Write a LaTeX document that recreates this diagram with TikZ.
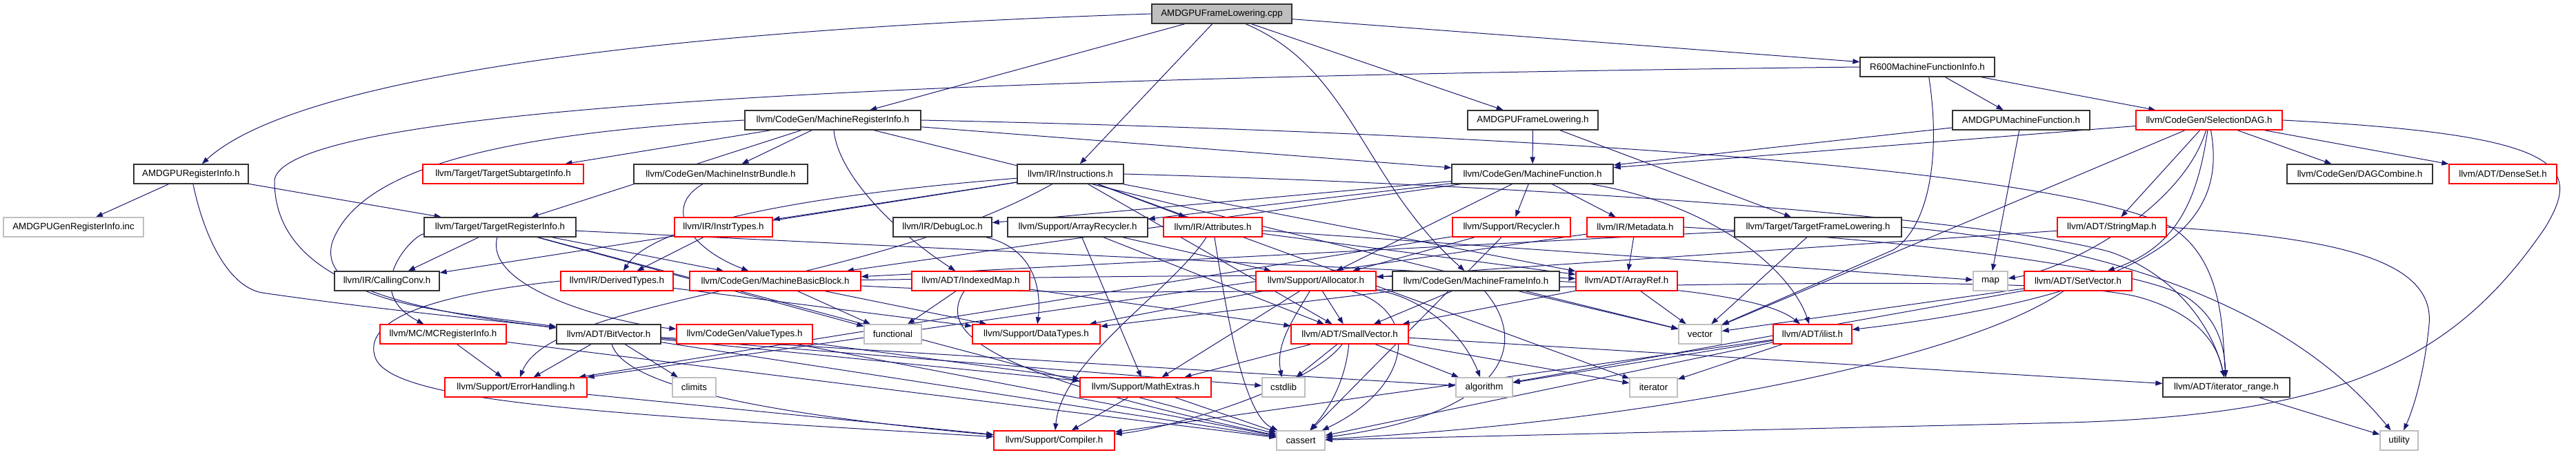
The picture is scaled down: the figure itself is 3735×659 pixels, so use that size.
\documentclass[tikz,border=0pt]{standalone}
\usepackage{fontspec}
\setmainfont{Liberation Sans}
\usetikzlibrary{arrows.meta,backgrounds}
\definecolor{edgeblue}{HTML}{191970}
\definecolor{trunc}{HTML}{FF0000}
\definecolor{sysgrey}{HTML}{BFBFBF}
\tikzset{
  hdr/.style={draw=black!80,line width=1pt,fill=white,minimum height=21pt,
    inner sep=0pt,font=\fontsize{10}{12}\selectfont},
  redhdr/.style={hdr,draw=trunc},
  syshdr/.style={hdr,draw=sysgrey},
  roothdr/.style={hdr,fill=sysgrey},
  boxw/.style={minimum width=#1*0.75pt},
  dep/.style={-{Triangle[length=7.5pt,width=5.5pt]},draw=edgeblue,line width=0.75pt}
}

\begin{document}
\begin{tikzpicture}[x=0.75pt,y=-0.75pt]
  \useasboundingbox (0,0) rectangle (3735,659);

  % top levels
  \node[roothdr,boxw=203] (cpp) at (1771.5,20) {AMDGPUFrameLowering.cpp};
  \node[hdr,boxw=195] (r600) at (2794.5,97) {R600MachineFunctionInfo.h};
  \node[hdr,boxw=255] (mri) at (1207.5,174) {llvm/CodeGen/MachineRegisterInfo.h};
  \node[hdr,boxw=189] (aflh) at (2222.5,174) {AMDGPUFrameLowering.h};
  \node[hdr,boxw=199] (amf) at (2930.5,174) {AMDGPUMachineFunction.h};
  \node[redhdr,boxw=212] (sdag) at (3203,174) {llvm/CodeGen/SelectionDAG.h};

  \node[hdr,boxw=166] (ari) at (277,252) {AMDGPURegisterInfo.h};
  \node[redhdr,boxw=233] (tsi) at (729.5,252) {llvm/Target/TargetSubtargetInfo.h};
  \node[hdr,boxw=252] (mib) at (1045,252) {llvm/CodeGen/MachineInstrBundle.h};
  \node[hdr,boxw=154] (instr) at (1552,252) {llvm/IR/Instructions.h};
  \node[hdr,boxw=234] (mf) at (2222,252) {llvm/CodeGen/MachineFunction.h};
  \node[hdr,boxw=211] (dagc) at (3421.5,252) {llvm/CodeGen/DAGCombine.h};
  \node[redhdr,boxw=156] (dset) at (3629,252) {llvm/ADT/DenseSet.h};

  \node[syshdr,boxw=203] (inc) at (106.5,329) {AMDGPUGenRegisterInfo.inc};
  \node[hdr,boxw=220] (tri) at (725,329) {llvm/Target/TargetRegisterInfo.h};
  \node[redhdr,boxw=142] (itypes) at (1049,329) {llvm/IR/InstrTypes.h};
  \node[hdr,boxw=143] (dloc) at (1366.5,329) {llvm/IR/DebugLoc.h};
  \node[hdr,boxw=203] (arec) at (1562.5,329) {llvm/Support/ArrayRecycler.h};
  \node[redhdr,boxw=143] (attr) at (1758.5,329) {llvm/IR/Attributes.h};
  \node[redhdr,boxw=171] (recy) at (2191.5,329) {llvm/Support/Recycler.h};
  \node[redhdr,boxw=140] (meta) at (2371,329) {llvm/IR/Metadata.h};
  \node[hdr,boxw=242] (tfl) at (2636,329) {llvm/Target/TargetFrameLowering.h};
  \node[redhdr,boxw=158] (smap) at (3062,329) {llvm/ADT/StringMap.h};

  \node[hdr,boxw=152] (cconv) at (561,407) {llvm/IR/CallingConv.h};
  \node[redhdr,boxw=163] (dtypes) at (894.5,407) {llvm/IR/DerivedTypes.h};
  \node[redhdr,boxw=248] (mbb) at (1124,407) {llvm/CodeGen/MachineBasicBlock.h};
  \node[redhdr,boxw=171] (imap) at (1407.5,407) {llvm/ADT/IndexedMap.h};
  \node[redhdr,boxw=174] (alloc) at (1908,407) {llvm/Support/Allocator.h};
  \node[hdr,boxw=242] (mfi) at (2140,407) {llvm/CodeGen/MachineFrameInfo.h};
  \node[redhdr,boxw=147] (aref) at (2358.5,407) {llvm/ADT/ArrayRef.h};
  \node[syshdr,boxw=50] (map) at (2886,407) {map};
  \node[redhdr,boxw=156] (svec) at (3013,407) {llvm/ADT/SetVector.h};

  \node[redhdr,boxw=183] (mcri) at (642.5,484) {llvm/MC/MCRegisterInfo.h};
  \node[hdr,boxw=151] (bitv) at (882.5,484) {llvm/ADT/BitVector.h};
  \node[redhdr,boxw=197] (vtypes) at (1079.5,484) {llvm/CodeGen/ValueTypes.h};
  \node[syshdr,boxw=83] (func) at (1294.5,484) {functional};
  \node[redhdr,boxw=185] (dtyp) at (1502.5,484) {llvm/Support/DataTypes.h};
  \node[redhdr,boxw=170] (smallv) at (1957,484) {llvm/ADT/SmallVector.h};
  \node[syshdr,boxw=62] (vector) at (2465,484) {vector};
  \node[redhdr,boxw=114] (ilist) at (2628,484) {llvm/ADT/ilist.h};

  \node[redhdr,boxw=206] (errh) at (748,561) {llvm/Support/ErrorHandling.h};
  \node[syshdr,boxw=63] (climits) at (1006.5,561) {climits};
  \node[redhdr,boxw=190] (mathx) at (1661,561) {llvm/Support/MathExtras.h};
  \node[syshdr,boxw=62] (cstdlib) at (1861,561) {cstdlib};
  \node[syshdr,boxw=82] (algo) at (2152,561) {algorithm};
  \node[syshdr,boxw=69] (iter) at (2397.5,561) {iterator};
  \node[hdr,boxw=184] (itrange) at (3228,561) {llvm/ADT/iterator\_range.h};

  \node[redhdr,boxw=175] (comp) at (1528.5,638) {llvm/Support/Compiler.h};
  \node[syshdr,boxw=70] (cassert) at (1886,638) {cassert};
  \node[syshdr,boxw=55] (utility) at (3478.5,638) {utility};

  % include edges, kept under the boxes
  \begin{pgfonlayer}{background}
  \draw[dep] (cpp.west) .. controls (900,45) and (420,120) .. (ari);
  \draw[dep] (cpp) -- (mri);
  \draw[dep] (cpp) -- (instr);
  \draw[dep] (cpp) -- (aflh);
  \draw[dep] (cpp) .. controls (1960,100) and (1975,260) .. (mfi);
  \draw[dep] (cpp) -- (r600);
  \draw[dep] (ari) -- (inc);
  \draw[dep] (ari) -- (tri);
  \draw[dep] (ari) .. controls (295,340) and (330,415) .. (380,424) .. controls (560,450) and (700,462) .. (bitv);
  \draw[dep] (r600) -- (amf);
  \draw[dep] (r600) -- (sdag);
  \draw[dep] (r600.west) .. controls (1400,112) and (420,150) .. (398,260) .. controls (396,420) and (620,452) .. (bitv);
  \draw[dep] (r600) .. controls (2815,230) and (2795,330) .. (2745,362) -- (vector);
  \draw[dep] (mri) -- (tsi);
  \draw[dep] (mri) -- (mib);
  \draw[dep] (mri) -- (tri);
  \draw[dep] (mri) -- (mf);
  \draw[dep] (mri) .. controls (1215,250) and (1290,330) .. (imap);
  \draw[dep] (mri.west) .. controls (700,195) and (520,250) .. (482,350) .. controls (455,440) and (660,452) .. (bitv);
  \draw[dep] (mri.east) .. controls (2300,195) and (3000,250) .. (3150,330) .. controls (3225,380) and (3222,480) .. (itrange);
  \draw[dep] (mri) -- (vector);
  \draw[dep] (aflh) -- (mf);
  \draw[dep] (aflh) -- (tfl);
  \draw[dep] (amf) -- (mf);
  \draw[dep] (amf) -- (map);
  \draw[dep] (sdag) -- (mf);
  \draw[dep] (sdag) -- (dagc);
  \draw[dep] (sdag) -- (dset);
  \draw[dep] (sdag) -- (smap);
  \draw[dep] (sdag) .. controls (3185,300) and (3150,360) .. (svec);
  \draw[dep] (sdag) .. controls (3225,300) and (3180,420) .. (ilist);
  \draw[dep] (sdag) .. controls (3165,300) and (3000,390) .. (map);
  \draw[dep] (sdag) -- (vector);
  \draw[dep] (sdag.east) .. controls (3720,195) and (3745,240) .. (3690,330) .. controls (3560,520) and (3400,600) .. (3000,612) -- (cassert);
  \draw[dep] (instr) -- (itypes);
  \draw[dep] (instr) -- (attr);
  \draw[dep] (instr) -- (cconv);
  \draw[dep] (instr) .. controls (1200,280) and (950,320) .. (dtypes);
  \draw[dep] (instr) -- (aref);
  \draw[dep] (instr) -- (smallv);
  \draw[dep] (instr) .. controls (1250,420) and (800,430) .. (errh);
  \draw[dep] (instr) -- (iter);
  \draw[dep] (instr.east) .. controls (2300,270) and (2900,320) .. (3060,365) .. controls (3160,400) and (3210,480) .. (itrange);
  \draw[dep] (mf) -- (dloc);
  \draw[dep] (mf) -- (arec);
  \draw[dep] (mf) -- (recy);
  \draw[dep] (mf) -- (meta);
  \draw[dep] (mf) -- (alloc);
  \draw[dep] (mf) -- (mbb);
  \draw[dep] (mf) .. controls (2500,300) and (2600,400) .. (ilist);
  \draw[dep] (mib) .. controls (960,300) and (1000,360) .. (mbb);
  \draw[dep] (tri) -- (cconv);
  \draw[dep] (tri) -- (mbb);
  \draw[dep] (tri) .. controls (700,420) and (900,470) .. (vtypes);
  \draw[dep] (tri) .. controls (600,340) and (520,420) .. (mcri);
  \draw[dep] (tri) -- (func);
  \draw[dep] (tri) -- (aref);
  \draw[dep] (tri) -- (cassert);
  \draw[dep] (itypes) -- (dtypes);
  \draw[dep] (dloc) .. controls (1500,360) and (1510,420) .. (dtyp);
  \draw[dep] (arec) -- (alloc);
  \draw[dep] (arec) -- (mathx);
  \draw[dep] (arec) -- (smallv);
  \draw[dep] (attr) -- (aref);
  \draw[dep] (attr) .. controls (1700,420) and (1540,520) .. (comp);
  \draw[dep] (attr) .. controls (1775,430) and (1800,600) .. (cassert);
  \draw[dep] (attr) -- (map);
  \draw[dep] (recy) -- (alloc);
  \draw[dep] (recy) -- (errh);
  \draw[dep] (recy) -- (cassert);
  \draw[dep] (meta) -- (aref);
  \draw[dep] (meta.east) .. controls (2800,350) and (3100,390) .. (3170,430) .. controls (3215,460) and (3225,500) .. (itrange);
  \draw[dep] (meta) -- (errh);
  \draw[dep] (tfl) -- (mbb);
  \draw[dep] (tfl) -- (vector);
  \draw[dep] (tfl.east) .. controls (3000,350) and (3300,420) .. (utility);
  \draw[dep] (smap) -- (alloc);
  \draw[dep] (smap.east) .. controls (3400,345) and (3530,380) .. (3522,470) .. controls (3515,540) and (3500,590) .. (utility);
  \draw[dep] (dtypes) -- (dtyp);
  \draw[dep] (dtypes.west) .. controls (640,425) and (520,460) .. (545,520) .. controls (575,585) and (900,600) .. (comp);
  \draw[dep] (mbb) -- (func);
  \draw[dep] (mbb) -- (dtyp);
  \draw[dep] (mbb) .. controls (1800,445) and (2900,380) .. (3100,430) .. controls (3190,455) and (3215,500) .. (itrange);
  \draw[dep] (mbb) .. controls (1700,400) and (2500,380) .. (ilist);
  \draw[dep] (imap) -- (func);
  \draw[dep] (imap) -- (smallv);
  \draw[dep] (imap) .. controls (1360,480) and (1420,540) .. (cassert);
  \draw[dep] (alloc) -- (smallv);
  \draw[dep] (alloc) -- (mathx);
  \draw[dep] (alloc) -- (dtyp);
  \draw[dep] (alloc) .. controls (1870,470) and (1850,500) .. (cstdlib);
  \draw[dep] (alloc) .. controls (2060,430) and (2120,480) .. (algo);
  \draw[dep] (alloc) .. controls (2060,450) and (2050,560) .. (cassert);
  \draw[dep] (mfi) -- (smallv);
  \draw[dep] (mfi) -- (dtyp);
  \draw[dep] (mfi) -- (vector);
  \draw[dep] (mfi) .. controls (2220,500) and (2180,600) .. (cassert);
  \draw[dep] (aref) -- (smallv);
  \draw[dep] (aref) -- (vector);
  \draw[dep] (svec) -- (vector);
  \draw[dep] (svec) -- (algo);
  \draw[dep] (svec) .. controls (2850,520) and (2400,610) .. (cassert);
  \draw[dep] (mcri) -- (errh);
  \draw[dep] (mcri) -- (cassert);
  \draw[dep] (bitv) -- (errh);
  \draw[dep] (bitv) -- (climits);
  \draw[dep] (bitv) .. controls (900,540) and (1000,590) .. (comp);
  \draw[dep] (bitv) -- (mathx);
  \draw[dep] (bitv) -- (cstdlib);
  \draw[dep] (bitv) -- (algo);
  \draw[dep] (bitv) -- (cassert);
  \draw[dep] (vtypes) -- (cassert);
  \draw[dep] (vtypes) -- (mathx);
  \draw[dep] (ilist) -- (algo);
  \draw[dep] (ilist) -- (iter);
  \draw[dep] (ilist) -- (cassert);
  \draw[dep] (ilist) -- (comp);
  \draw[dep] (errh) -- (comp);
  \draw[dep] (mathx) -- (comp);
  \draw[dep] (mathx) -- (cassert);
  \draw[dep] (smallv) -- (cstdlib);
  \draw[dep] (smallv) -- (algo);
  \draw[dep] (smallv) -- (iter);
  \draw[dep] (smallv) .. controls (1950,560) and (1920,600) .. (cassert);
  \draw[dep] (smallv) .. controls (1900,560) and (1700,620) .. (comp);
  \draw[dep] (smallv) -- (mathx);
  \draw[dep] (smallv) -- (itrange);
  \draw[dep] (itrange) -- (utility);
  \end{pgfonlayer}
\end{tikzpicture}
\end{document}
